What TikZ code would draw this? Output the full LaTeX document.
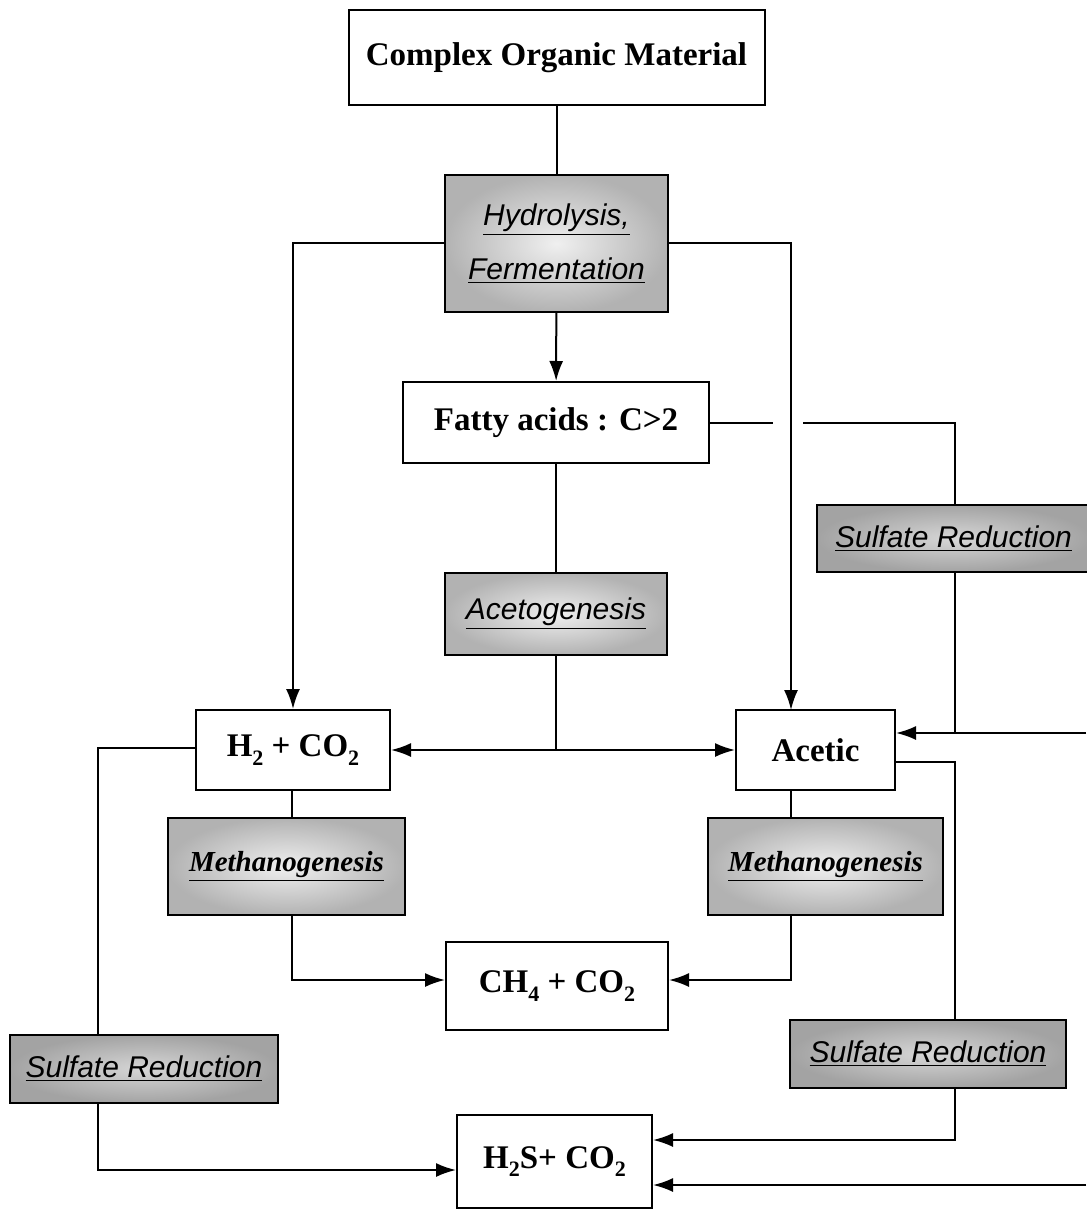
\documentclass[tikz,border=0pt]{standalone}
\usepackage{fontspec}
\setmainfont{Liberation Serif}
\setsansfont{Liberation Sans}
\usetikzlibrary{arrows.meta}

\newcommand{\lowidx}[1]{\raisebox{-0.55ex}{\fontsize{11}{12}\selectfont #1}}

\tikzset{
  link/.style={line width=1pt},
  flow/.style={line width=1pt, -{Latex[length=10pt,width=7pt]}},
  product/.style={draw, fill=white, line width=1pt, inner sep=0pt,
    font=\fontsize{16.5}{19}\selectfont\bfseries},
  process/.style={draw, line width=1pt, inner sep=0pt, align=center,
    shading=radial, inner color=gray!12, outer color=gray!60,
    font=\fontsize{15}{18}\selectfont\sffamily\itshape},
  sulfate/.style={process, inner color=gray!32, outer color=gray!72},
  methano/.style={process, font=\fontsize{14.5}{17}\selectfont\bfseries\itshape}
}

\begin{document}
\begin{tikzpicture}[x=0.5pt, y=-0.5pt]
\useasboundingbox (0,0) rectangle (1086,1209);

% substances
\node[product, minimum width=208pt, minimum height=47.5pt] (com) at (556.5,57.5) {Complex Organic Material};
\node[product, minimum width=153pt, minimum height=40.5pt] (fat) at (556,422.5) {Fatty acids : C>2};
\node[product, minimum width=97pt, minimum height=40pt] (h2) at (293,750) {H\lowidx{2} + CO\lowidx{2}};
\node[product, minimum width=79.5pt, minimum height=40pt] (acetic) at (815.5,750) {Acetic};
\node[product, minimum width=111pt, minimum height=44pt] (ch4) at (557,986) {CH\lowidx{4} + CO\lowidx{2}};
\node[product, minimum width=97.5pt, minimum height=46.5pt] (h2s) at (554.5,1161.5) {H\lowidx{2}S+ CO\lowidx{2}};

% processes
\node[process, minimum width=111.5pt, minimum height=68.5pt] (hyd) at (556.5,243.5)
  {\underline{Hydrolysis,}\\[9pt]\underline{Fermentation}};
\node[process, minimum width=111pt, minimum height=41pt] (ace) at (556,614) {\underline{Acetogenesis}};
\node[methano, minimum width=118.5pt, minimum height=48.5pt] (metl) at (286.5,866.5) {\underline{Methanogenesis}};
\node[methano, minimum width=117.5pt, minimum height=48.5pt] (metr) at (825.5,866.5) {\underline{Methanogenesis}};
\node[sulfate, minimum width=136.5pt, minimum height=33.5pt] (srt) at (953.5,538.5) {\underline{Sulfate Reduction}};
\node[sulfate, minimum width=134pt, minimum height=34pt] (srl) at (144,1069) {\underline{Sulfate Reduction}};
\node[sulfate, minimum width=138pt, minimum height=34pt] (srr) at (928,1054) {\underline{Sulfate Reduction}};

% junctions
\coordinate (aceIn) at (791,710);
\coordinate (split) at (556,750);
\coordinate (gapL) at (773,422.5);
\coordinate (gapR) at (803,422.5);
\coordinate (r1) at (955,422.5);
\coordinate (r2) at (955,733);
\coordinate (r3) at (955,762);
\coordinate (r4) at (955,1140);
\coordinate (e1) at (1086,733);
\coordinate (e2) at (1086,1185);
\coordinate (l1) at (98,748);
\coordinate (l2) at (98,1170);
\coordinate (m1) at (292,980);
\coordinate (m2) at (791,980);

% hydrolysis and fermentation
\draw[link] (com) -- (hyd);
\draw[flow] (hyd) -- (fat);
\draw[flow] (hyd.west) -| (h2.north);
\draw[flow] (hyd.east) -| (aceIn);

% acetogenesis
\draw[link] (fat) -- (ace);
\draw[link] (ace) -- (split);
\draw[flow] (split) -- (h2);
\draw[flow] (split) -- (acetic);

% sulfate reduction of the fatty acids
\draw[link] (fat.east) -- (gapL);
\draw[link] (gapR) -- (r1) -- (r1 |- srt.north);
\draw[link] (r1 |- srt.south) -- (r2);
\draw[flow] (r2) -- (acetic.east |- r2);
\draw[link] (e1) -- (r2);

% methanogenesis
\draw[link] (h2.south -| m1) -- (metl.north -| m1);
\draw[flow] (metl.south -| m1) -- (m1) -- (ch4.west |- m1);
\draw[link] (acetic.south -| m2) -- (metr.north -| m2);
\draw[flow] (metr.south -| m2) -- (m2) -- (ch4.east |- m2);

% sulfate reduction to H2S
\draw[link] (h2.west |- l1) -- (l1) -- (l1 |- srl.north);
\draw[flow] (l1 |- srl.south) -- (l2) -- (h2s.west |- l2);
\draw[link] (acetic.east |- r3) -- (r3) -- (r3 |- srr.north);
\draw[flow] (r3 |- srr.south) -- (r4) -- (h2s.east |- r4);
\draw[flow] (e2) -- (h2s.east |- e2);
\end{tikzpicture}
\end{document}
